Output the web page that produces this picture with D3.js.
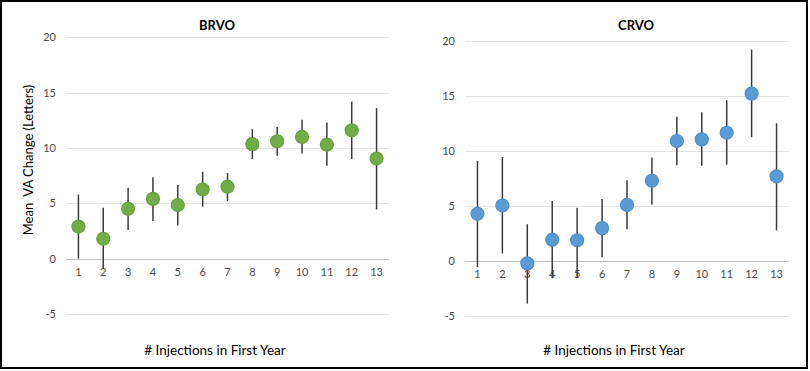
<!DOCTYPE html>
<html>
<head>
<meta charset="utf-8">
<script src="https://cdn.jsdelivr.net/npm/d3@7"></script>
<style>
  body { margin: 0; background: #fff; }
  svg { display: block; }
  text { font-family: Lato, "Open Sans", sans-serif; }
</style>
</head>
<body>
<svg width="810" height="371"></svg>
<script>
const injections = ["1", "2", "3", "4", "5", "6", "7", "8", "9", "10", "11", "12", "13"];
const yTicks = [-5, 0, 5, 10, 15, 20];

// BRVO
const brvoMean = [2.9, 1.8, 4.5, 5.4, 4.85, 6.25, 6.5, 10.35, 10.6, 11.0, 10.3, 11.6, 9.05];
const brvoLow = [0.0, -0.9, 2.6, 3.4, 3.0, 4.7, 5.2, 9.0, 9.3, 9.5, 8.4, 9.0, 4.45];
const brvoHigh = [5.8, 4.6, 6.4, 7.35, 6.65, 7.85, 7.75, 11.7, 11.9, 12.55, 12.3, 14.2, 13.6];

// CRVO
const crvoMean = [4.3, 5.05, -0.2, 1.95, 1.9, 3.0, 5.1, 7.3, 10.9, 11.05, 11.65, 15.2, 7.7];
const crvoLow = [-0.55, 0.7, -3.85, -1.55, -1.55, 0.35, 2.9, 5.15, 8.7, 8.65, 8.75, 11.25, 2.8];
const crvoHigh = [9.1, 9.45, 3.35, 5.45, 4.85, 5.65, 7.35, 9.4, 13.1, 13.5, 14.6, 19.2, 12.5];

const svg = d3.select("svg");

// border round the whole picture
svg.append("rect")
  .attr("x", 1).attr("y", 1)
  .attr("width", 806).attr("height", 367)
  .attr("fill", "none")
  .attr("stroke", "#000")
  .attr("stroke-width", 2);

const drawPanel = (opt) => {
  const x = d3.scaleBand().domain(injections).range([opt.x0, opt.x1]);
  const y = d3.scaleLinear().domain([-5, 20]).range([opt.yBottom, opt.yTop]);
  const g = svg.append("g");

  // gridlines
  g.selectAll("line.grid")
    .data(yTicks)
    .enter()
    .append("line")
    .attr("x1", opt.x0)
    .attr("x2", opt.x1)
    .attr("y1", (d) => Math.round(y(d)) + 0.5)
    .attr("y2", (d) => Math.round(y(d)) + 0.5)
    .attr("stroke", (d) => (d === 0 ? "#bfbfbf" : "#e4e4e4"))
    .attr("stroke-width", 1);

  // y tick labels
  g.selectAll("text.ytick")
    .data(yTicks)
    .enter()
    .append("text")
    .attr("x", opt.x0 - 10)
    .attr("y", (d) => y(d) + 4)
    .attr("text-anchor", "end")
    .style("font-size", "11px")
    .style("fill", "#4a4a4a")
    .text((d) => d);

  // x tick labels
  g.selectAll("text.xtick")
    .data(injections)
    .enter()
    .append("text")
    .attr("x", (d) => x(d) + x.bandwidth() / 2)
    .attr("y", y(0) + 17)
    .attr("text-anchor", "middle")
    .style("font-size", "11px")
    .style("fill", "#4a4a4a")
    .text((d) => d);

  // error bars
  g.selectAll("line.err")
    .data(injections)
    .enter()
    .append("line")
    .attr("x1", (d) => x(d) + x.bandwidth() / 2)
    .attr("x2", (d) => x(d) + x.bandwidth() / 2)
    .attr("y1", (d, i) => y(opt.low[i]))
    .attr("y2", (d, i) => y(opt.high[i]))
    .attr("stroke", "#3a3a3a")
    .attr("stroke-width", 1.5);

  // markers
  g.selectAll("circle.pt")
    .data(injections)
    .enter()
    .append("circle")
    .attr("cx", (d) => x(d) + x.bandwidth() / 2)
    .attr("cy", (d, i) => y(opt.mean[i]))
    .attr("r", 6.5)
    .attr("fill", opt.fill)
    .attr("stroke", opt.stroke)
    .attr("stroke-width", 1.2);

  // title
  g.append("text")
    .attr("x", opt.titleX)
    .attr("y", 30)
    .attr("text-anchor", "middle")
    .style("font-size", "13px")
    .style("font-weight", "bold")
    .style("fill", "#000")
    .text(opt.title);

  // x axis title
  g.append("text")
    .attr("x", opt.xTitleX)
    .attr("y", 355)
    .attr("text-anchor", "middle")
    .style("font-size", "13.5px")
    .style("fill", "#000")
    .text("# Injections in First Year");
};

drawPanel({
  title: "BRVO",
  x0: 66, x1: 389,
  yTop: 37.3, yBottom: 314,
  mean: brvoMean, low: brvoLow, high: brvoHigh,
  fill: "#70ad47", stroke: "#63a03b",
  titleX: 217, xTitleX: 215
});

drawPanel({
  title: "CRVO",
  x0: 465, x1: 789,
  yTop: 40.7, yBottom: 316.3,
  mean: crvoMean, low: crvoLow, high: crvoHigh,
  fill: "#5b9bd5", stroke: "#4e8fcc",
  titleX: 636, xTitleX: 614
});

// y axis title (left panel only)
svg.append("text")
  .attr("transform", "translate(33,160) rotate(-90)")
  .attr("text-anchor", "middle")
  .style("font-size", "13px")
  .style("fill", "#000")
  .style("white-space", "pre")
  .text("Mean  VA Change (Letters)");
</script>
</body>
</html>
